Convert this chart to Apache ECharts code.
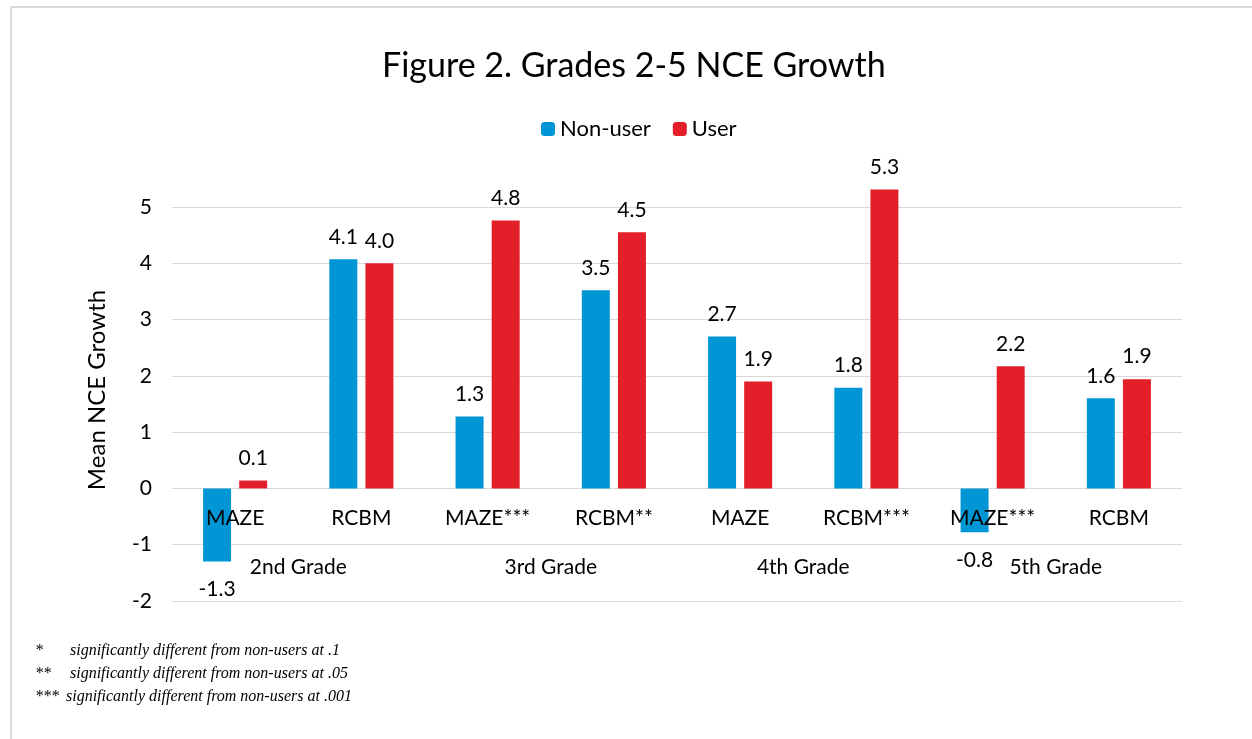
<!DOCTYPE html>
<html>
<head>
<meta charset="utf-8">
<script src="https://cdn.jsdelivr.net/npm/echarts@6/dist/echarts.min.js"></script>
<style>
html,body{margin:0;padding:0;background:#fff;}
#chart{width:1252px;height:739px;}
</style>
</head>
<body>
<div id="chart"></div>
<script>
const tests = ['MAZE', 'RCBM', 'MAZE***', 'RCBM**', 'MAZE', 'RCBM***', 'MAZE***', 'RCBM'];
const grades = ['2nd Grade', '3rd Grade', '4th Grade', '5th Grade'];
const nonUser = [-1.3, 4.07, 1.28, 3.52, 2.7, 1.79, -0.78, 1.6];
const user = [0.14, 4.0, 4.76, 4.55, 1.9, 5.31, 2.17, 1.94];
const yTicks = [-2, -1, 0, 1, 2, 3, 4, 5];
const footnotes = [
  ['*', 'significantly different from non-users at .1'],
  ['**', 'significantly different from non-users at .05'],
  ['***', 'significantly different from non-users at .001']
];

const FONT = 'Lato';
const chart = echarts.init(document.getElementById('chart'));

function mk(vals) {
  return vals.map(v => ({
    value: v,
    label: { position: v < 0 ? 'bottom' : 'top', distance: v < 0 ? 17 : 12 }
  }));
}

const graphics = [
  { type: 'rect', shape: { x: 11, y: 7, width: 1400, height: 900 }, style: { fill: 'none', stroke: '#d9d9d9', lineWidth: 2 }, silent: true, z: -1 },
  { type: 'text', x: 97, y: 390, rotation: Math.PI / 2, style: { text: 'Mean NCE Growth', font: '24px ' + FONT, fill: '#000', align: 'center', verticalAlign: 'middle' } }
];
footnotes.forEach((f, i) => {
  graphics.push({ type: 'text', x: 35, y: 651 + i * 23, style: { text: f[0], font: 'italic 16px "Liberation Serif"', fill: '#000', align: 'left', verticalAlign: 'middle' } });
  graphics.push({ type: 'text', x: i === 2 ? 66 : 70, y: 651 + i * 23, style: { text: f[1], font: 'italic 16px "Liberation Serif"', fill: '#000', align: 'left', verticalAlign: 'middle' } });
});

chart.setOption({
  animation: false,
  textStyle: { fontFamily: FONT },
  title: {
    text: 'Figure 2. Grades 2-5 NCE Growth',
    left: 377, top: 44,
    textStyle: { fontFamily: FONT, fontSize: 34, fontWeight: 'normal', color: '#000' }
  },
  legend: {
    top: 113, left: 536,
    itemWidth: 14, itemHeight: 14, itemGap: 22,
    textStyle: { fontFamily: FONT, fontSize: 22, color: '#000' },
    data: ['Non-user', 'User']
  },
  grid: { left: 172, right: 70, top: 207, bottom: 138, containLabel: false },
  xAxis: [
    {
      type: 'category', data: tests, position: 'bottom', z: 5, offset: -113,
      axisLine: { show: false, onZero: false },
      axisTick: { show: false },
      axisLabel: { margin: 20, fontSize: 21, color: '#000', fontFamily: FONT, interval: 0 }
    },
    {
      type: 'category', data: grades, position: 'bottom', z: 5, offset: -113,
      axisLine: { show: false, onZero: false },
      axisTick: { show: false },
      axisLabel: { margin: 69, fontSize: 21, color: '#000', fontFamily: FONT, interval: 0 }
    }
  ],
  yAxis: {
    type: 'value', min: yTicks[0], max: yTicks[yTicks.length - 1], interval: 1,
    axisLine: { show: false }, axisTick: { show: false },
    axisLabel: { margin: 20, fontSize: 21, color: '#000', fontFamily: FONT },
    splitLine: { lineStyle: { color: '#d9d9d9', width: 1 } }
  },
  series: [
    {
      name: 'Non-user', type: 'bar', xAxisIndex: 0, data: mk(nonUser),
      barWidth: 28, barGap: '29%', clip: false,
      itemStyle: { color: '#0096D6' },
      label: { show: true, fontSize: 21, color: '#000', fontFamily: FONT, formatter: p => p.value.toFixed(1) }
    },
    {
      name: 'User', type: 'bar', xAxisIndex: 0, data: mk(user),
      barWidth: 28, barGap: '29%', clip: false,
      itemStyle: { color: '#E3202A' },
      label: { show: true, fontSize: 21, color: '#000', fontFamily: FONT, formatter: p => p.value.toFixed(1) }
    }
  ],
  graphic: graphics
});
</script>
</body>
</html>
